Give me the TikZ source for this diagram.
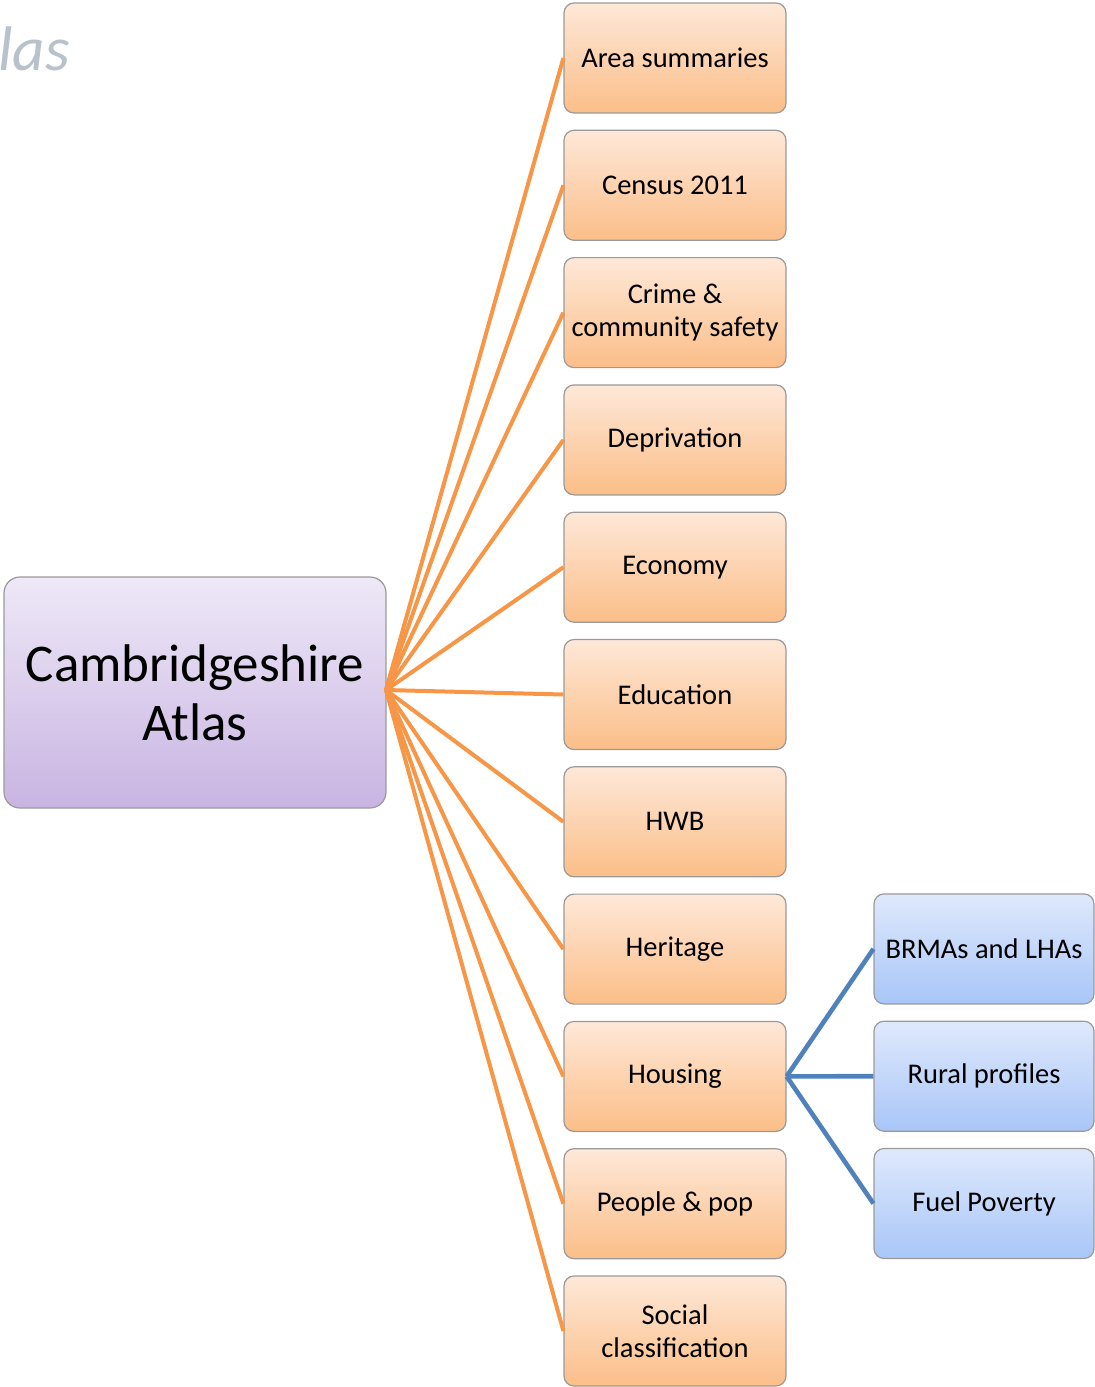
\documentclass[tikz,border=0pt]{standalone}
\usepackage{fontspec}
\setmainfont{Carlito}
\usetikzlibrary{shadings}
\definecolor{orline}{HTML}{F79646}
\definecolor{blline}{HTML}{4F81BD}
\definecolor{bordergray}{HTML}{9A9A9A}
\definecolor{ortop}{HTML}{FEE8D8}
\definecolor{orbot}{HTML}{FBBE88}
\definecolor{putop}{HTML}{EEE8F7}
\definecolor{pubot}{HTML}{C9B4E2}
\definecolor{bltop}{HTML}{DFE9FC}
\definecolor{blbot}{HTML}{A8C6F8}
\definecolor{ghost}{HTML}{B9C1CD}
\begin{document}
\begin{tikzpicture}[x=1pt,y=-1pt,
  box/.style={draw=bordergray, line width=1.2pt, rounded corners=10pt, align=center,
    inner sep=2pt, font=\fontsize{28.5}{33}\selectfont},
  obox/.style={box, top color=ortop, bottom color=orbot, minimum width=222pt, minimum height=110pt},
  bbox/.style={box, top color=bltop, bottom color=blbot, minimum width=220pt, minimum height=110pt},
  pbox/.style={box, top color=putop, bottom color=pubot, minimum width=382pt, minimum height=231pt,
    rounded corners=16pt, font=\fontsize{53}{59}\selectfont},
  oline/.style={draw=orline, line width=4pt},
  bline/.style={draw=blline, line width=4.6pt}]
\useasboundingbox (0,0) rectangle (1095,1387);
\node[anchor=west, text=ghost, font=\fontsize{63}{65}\selectfont\itshape, inner sep=0pt] (ghost) at (-2,49) {las};
\node[pbox] (root) at (195,692.5) {Cambridgeshire\\Atlas};
\coordinate (hub) at (386,690);
\foreach \n/\t [count=\i from 0] in {a/Area summaries, b/Census 2011, c/Crime \&\\community safety, d/Deprivation, e/Economy, f/Education, g/HWB, h/Heritage, i/Housing, j/People \& pop, k/Social\\classification}{
  \node[obox] (\n) at (675,58+127.3*\i) {\t};
}
\node[bbox] (brma) at (984,948.9) {BRMAs and LHAs};
\node[bbox] (rural) at (984,1076.2) {Rural profiles};
\node[bbox] (fuel) at (984,1203.5) {Fuel Poverty};
\foreach \n in {a,b,c,d,e,f,g,h,i,j,k}{
  \draw[oline] (hub) -- (\n.west);
}
\foreach \n in {brma,rural,fuel}{
  \draw[bline] (i.east) -- (\n.west);
}
\end{tikzpicture}
\end{document}
